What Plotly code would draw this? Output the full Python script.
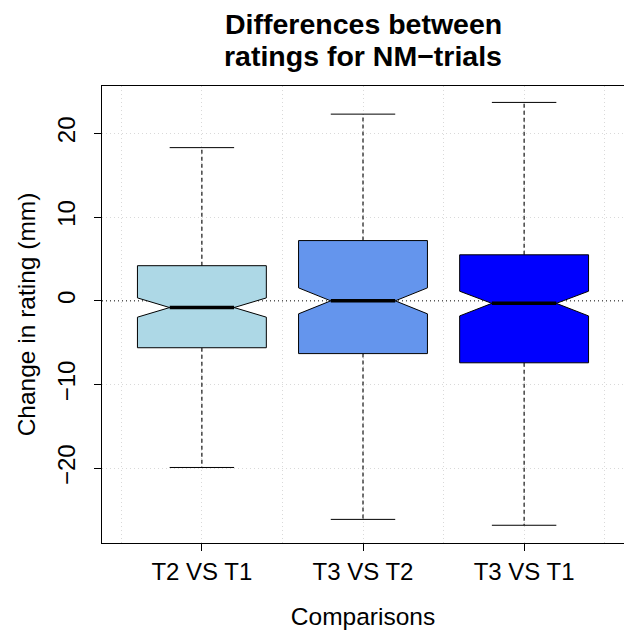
import plotly.graph_objects as go

# ---- data ----
categories = ["T2 VS T1", "T3 VS T2", "T3 VS T1"]
positions = [1, 2, 3]
lower_whisker = [-19.9, -26.1, -26.8]
q1 = [-5.6, -6.3, -7.4]
median = [-0.8, 0.0, -0.3]
q3 = [4.2, 7.2, 5.5]
upper_whisker = [18.3, 22.3, 23.7]
notch_low = [-1.95, -1.55, -1.8]
notch_high = [0.35, 1.55, 1.15]
fill_colors = ["#ADD8E6", "#6495ED", "#0000FF"]

y_ticks = [-20, -10, 0, 10, 20]
y_ticktext = ["\u221220", "\u221210", "0", "10", "20"]
y_grid = [-20, -10, 10, 20]
x_grid_minor = [0.5, 1.5, 2.5, 3.5]

FONT = "Liberation Sans, Arial, Helvetica, sans-serif"
half = 0.4       # half box width (x units)
inner = 0.2      # half width at the notch / staple
GRID = "#D9D9D9"

fig = go.Figure()

for x, lo, a, m, b, hi, nl, nh, col in zip(positions, lower_whisker, q1, median, q3,
                                            upper_whisker, notch_low, notch_high, fill_colors):
    # whiskers (dashed)
    fig.add_trace(go.Scatter(x=[x, x, None, x, x], y=[b, hi, None, a, lo], mode="lines",
                             line=dict(color="black", width=1.1, dash="4px,3px"),
                             hoverinfo="skip", showlegend=False))
    # staples
    fig.add_trace(go.Scatter(x=[x - inner, x + inner, None, x - inner, x + inner],
                             y=[hi, hi, None, lo, lo], mode="lines",
                             line=dict(color="black", width=1),
                             hoverinfo="skip", showlegend=False))
    # notched box
    px = [x - half, x - half, x - inner, x - half, x - half, x + half, x + half, x + inner,
          x + half, x + half, x - half]
    py = [a, nl, m, nh, b, b, nh, m, nl, a, a]
    fig.add_trace(go.Scatter(x=px, y=py, mode="lines", fill="toself", fillcolor=col,
                             line=dict(color="black", width=1),
                             hoverinfo="skip", showlegend=False))
    # median
    fig.add_trace(go.Scatter(x=[x - inner, x + inner], y=[m, m], mode="lines",
                             line=dict(color="black", width=3.5),
                             hoverinfo="skip", showlegend=False))

# horizontal dotted reference line at 0
fig.add_shape(type="line", xref="paper", x0=0, x1=1, yref="y", y0=0, y1=0,
              line=dict(color="black", width=1, dash="1px,3px"), layer="below")

fig.update_layout(
    width=624, height=630,
    margin=dict(l=102, r=0, t=86, b=87),
    plot_bgcolor="white", paper_bgcolor="white",
    font=dict(family=FONT, size=24, color="black"),
    showlegend=False,
)

fig.update_xaxes(
    range=[0.38, 3.62], tickmode="array", tickvals=positions, ticktext=categories,
    ticks="outside", ticklen=7, tickcolor="black", tickfont=dict(size=24),
    showline=True, linecolor="black", linewidth=1, mirror=True,
    showgrid=True, gridcolor=GRID, griddash="1px,3px", gridwidth=1,
    minor=dict(tickvals=x_grid_minor, showgrid=True, gridcolor=GRID,
               griddash="1px,3px", gridwidth=1, ticks=""),
    zeroline=False, layer="above traces",
    title=dict(text="Comparisons", font=dict(size=24.5), standoff=27),
)
fig.update_yaxes(
    range=[-28.92, 25.66], tickmode="array", tickvals=y_ticks, ticktext=y_ticktext,
    tickangle=-90, ticks="outside", ticklen=7, tickcolor="black", tickfont=dict(size=24),
    ticklabelstandoff=9,
    showline=True, linecolor="black", linewidth=1, mirror=False,
    showgrid=False,
    minor=dict(tickvals=y_grid, showgrid=True, gridcolor=GRID,
               griddash="1px,3px", gridwidth=1, ticks=""),
    zeroline=False, layer="above traces",
    title=dict(text="Change in rating (mm)", font=dict(size=24.5), standoff=10),
)

fig.add_annotation(text="<b>Differences between</b>", xref="x", x=2, yref="paper",
                   y=(543 - 24) / 457, yanchor="middle", showarrow=False,
                   font=dict(size=28.5, family=FONT))
fig.add_annotation(text="<b>ratings for NM\u2212trials</b>", xref="x", x=2, yref="paper",
                   y=(543 - 56) / 457, yanchor="middle", showarrow=False,
                   font=dict(size=28.5, family=FONT))

fig.write_html("out.html")
